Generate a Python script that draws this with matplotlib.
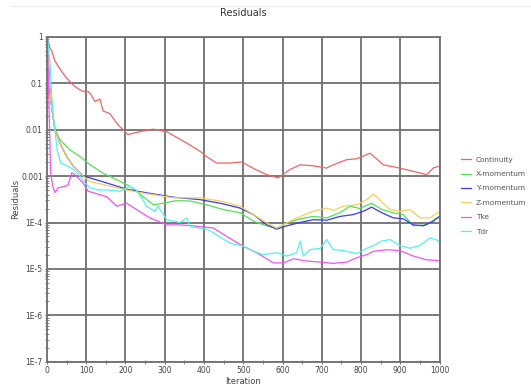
import matplotlib
matplotlib.use("Agg")
import matplotlib.pyplot as plt
from matplotlib.ticker import FixedLocator, FuncFormatter, LogLocator, MultipleLocator
from matplotlib.lines import Line2D

# ---------------- data ----------------
cont_it = [0, 1, 4, 8, 12, 16, 20, 30, 46, 67, 80, 92, 104, 110, 122, 135, 143, 160,
           181, 206, 237, 270, 305, 356, 390, 407, 432, 465, 496, 530, 560, 589, 619,
           645, 678, 712, 729, 763, 789, 823, 857, 899, 933, 967, 985, 1000]
cont_val = [1.0, 1.0, 0.75, 0.55, 0.5, 0.38, 0.3, 0.22, 0.14, 0.09, 0.075, 0.066, 0.066,
            0.06, 0.04, 0.045, 0.025, 0.022, 0.0126, 0.0078, 0.009, 0.0102, 0.009,
            0.0051, 0.0034, 0.0026, 0.0019, 0.0019, 0.002, 0.0014, 0.00107, 0.00091,
            0.00138, 0.00174, 0.00166, 0.00148, 0.00174, 0.00224, 0.00234, 0.0031,
            0.00174, 0.00148, 0.00126, 0.00107, 0.0015, 0.00162]

xmom_it = [0, 1, 3, 6, 10, 15, 20, 33, 59, 84, 110, 143, 178, 211, 245, 271, 296, 330,
           364, 407, 449, 492, 526, 560, 585, 611, 645, 678, 713, 746, 772, 797, 827,
           853, 882, 908, 933, 967, 1000]
xmom_val = [1.0, 1.0, 0.316, 0.1, 0.0398, 0.02, 0.0105, 0.006, 0.00363, 0.00263,
            0.00174, 0.00115, 8.3e-4, 6.0e-4, 3.6e-4, 2.4e-4, 2.6e-4, 2.95e-4, 2.9e-4,
            2.4e-4, 1.9e-4, 1.62e-4, 1.07e-4, 8.5e-5, 7.6e-5, 9.8e-5, 1.2e-4, 1.35e-4,
            1.26e-4, 1.62e-4, 2.24e-4, 2.0e-4, 2.6e-4, 1.9e-4, 1.62e-4, 1.48e-4,
            8.5e-5, 8.9e-5, 1.35e-4]

ymom_it = [0, 1, 3, 6, 10, 15, 20, 33, 50, 67, 92, 110, 152, 203, 237, 322, 390, 441,
           492, 526, 560, 585, 611, 645, 678, 713, 746, 780, 806, 827, 853, 882, 908,
           933, 959, 984, 1000]
ymom_val = [2.0e-5, 1.0, 0.33, 0.1, 0.04, 0.02, 0.0102, 0.0051, 0.00263, 0.00162,
            0.001, 9.1e-4, 7.1e-4, 5.2e-4, 4.6e-4, 3.5e-4, 3.1e-4, 2.6e-4, 2.04e-4,
            1.48e-4, 8.9e-5, 7.2e-5, 8.5e-5, 1.0e-4, 1.15e-4, 1.12e-4, 1.35e-4,
            1.48e-4, 1.74e-4, 2.14e-4, 1.62e-4, 1.26e-4, 1.2e-4, 8.9e-5, 8.5e-5,
            1.07e-4, 1.35e-4]

zmom_it = [0, 1, 3, 6, 10, 15, 20, 33, 50, 67, 92, 110, 152, 203, 237, 322, 390, 441,
           492, 526, 560, 585, 611, 645, 678, 713, 730, 755, 789, 815, 832, 853, 874,
           899, 925, 950, 976, 1000]
zmom_val = [1.0, 1.0, 0.355, 0.1, 0.0398, 0.02, 0.0102, 0.0051, 0.00263, 0.00162,
            0.001, 7.6e-4, 6.3e-4, 5.0e-4, 4.4e-4, 3.4e-4, 3.4e-4, 2.9e-4, 2.24e-4,
            1.48e-4, 9.8e-5, 7.6e-5, 9.8e-5, 1.35e-4, 1.74e-4, 2.04e-4, 1.82e-4,
            2.24e-4, 2.4e-4, 3.1e-4, 4.1e-4, 2.75e-4, 1.9e-4, 1.74e-4, 1.9e-4,
            1.26e-4, 1.26e-4, 1.74e-4]

tke_it = [0, 1, 3, 5, 7, 9, 14, 20, 29, 46, 54, 63, 71, 92, 105, 152, 178, 203, 228,
          262, 305, 339, 381, 424, 458, 500, 534, 577, 602, 628, 662, 696, 729, 764,
          789, 815, 832, 865, 899, 933, 967, 1000]
tke_val = [1.0, 1.0, 0.2, 0.0316, 0.0079, 0.00126, 6.3e-4, 4.4e-4, 5.6e-4, 6.0e-4,
           6.5e-4, 0.00117, 0.00107, 7.1e-4, 4.7e-4, 3.6e-4, 2.24e-4, 2.6e-4, 1.9e-4,
           1.26e-4, 8.9e-5, 8.9e-5, 8.3e-5, 7.6e-5, 5.0e-5, 3.1e-5, 2.24e-5, 1.35e-5,
           1.35e-5, 1.66e-5, 1.48e-5, 1.41e-5, 1.32e-5, 1.41e-5, 1.74e-5, 2.04e-5,
           2.4e-5, 2.6e-5, 2.5e-5, 1.9e-5, 1.58e-5, 1.51e-5]

tdr_it = [0, 1, 8, 12, 17, 20, 26, 35, 54, 67, 84, 97, 110, 130, 152, 186, 211, 228,
          254, 275, 283, 305, 339, 356, 364, 407, 424, 466, 500, 526, 551, 585, 611,
          636, 645, 653, 670, 696, 713, 729, 755, 789, 815, 832, 853, 874, 899, 925,
          950, 976, 1000]
tdr_val = [1.0e-7, 1.0, 0.25, 0.05, 0.0158, 0.01, 0.00363, 0.0019, 0.00162, 0.00138,
           0.001, 7.1e-4, 5.6e-4, 5.0e-4, 5.0e-4, 4.7e-4, 6.0e-4, 5.0e-4, 2.24e-4,
           1.74e-4, 2.24e-4, 1.15e-4, 1.0e-4, 1.26e-4, 8.3e-5, 7.1e-5, 6.0e-5,
           3.6e-5, 3.1e-5, 2.4e-5, 2.04e-5, 2.24e-5, 1.9e-5, 2.24e-5, 4.0e-5, 1.9e-5,
           2.6e-5, 2.8e-5, 4.3e-5, 2.6e-5, 2.5e-5, 2.14e-5, 2.8e-5, 3.2e-5, 4.0e-5,
           4.3e-5, 3.2e-5, 2.8e-5, 3.2e-5, 4.7e-5, 4.0e-5]

series_names = ["Continuity", "X-momentum", "Y-momentum", "Z-momentum", "Tke", "Tdr"]
ytick_vals = [1, 0.1, 0.01, 0.001, 1e-4, 1e-5, 1e-6, 1e-7]
ytick_labels = ["1", "0.1", "0.01", "0.001", "1E-4", "1E-5", "1E-6", "1E-7"]
xtick_vals = [0, 100, 200, 300, 400, 500, 600, 700, 800, 900, 1000]

# ---------------- drawing ----------------
colors = ["#f26464", "#55e055", "#3a3af0", "#f5d055", "#f055f0", "#55f0f0"]
series = [(cont_it, cont_val), (xmom_it, xmom_val), (ymom_it, ymom_val),
          (zmom_it, zmom_val), (tke_it, tke_val), (tdr_it, tdr_val)]

fig = plt.figure(figsize=(5.31, 3.86), dpi=100)
ax = fig.add_axes([0.0885, 0.0622, 0.7392, 0.8432])

for (it, val), name, c in zip(series, series_names, colors):
    ax.plot(it, val, color=c, lw=0.9, label=name, solid_joinstyle="round")

ax.set_yscale("log")
ax.set_ylim(1e-7, 1)
ax.set_xlim(0, 1000)

ax.yaxis.set_major_locator(FixedLocator(ytick_vals))
ax.yaxis.set_major_formatter(FuncFormatter(
    lambda v, p: ytick_labels[min(range(len(ytick_vals)), key=lambda i: abs(ytick_vals[i] - v) / ytick_vals[i])]))
ax.yaxis.set_minor_locator(LogLocator(base=10, subs=range(2, 10), numticks=20))
ax.yaxis.set_minor_formatter(FuncFormatter(lambda v, p: ""))
ax.xaxis.set_major_locator(FixedLocator(xtick_vals))
ax.xaxis.set_minor_locator(MultipleLocator(50))

gridc = "#707070"
ax.grid(True, which="major", color=gridc, lw=1.3)
for s in ax.spines.values():
    s.set_color(gridc)
    s.set_linewidth(1.3)

ax.tick_params(which="major", direction="inout", length=3, width=0.8, color=gridc,
               labelsize=5.5, labelcolor="#444444", pad=1.5)
ax.tick_params(which="minor", direction="inout", length=2.5, width=0.6, color=gridc)

ax.set_title("Residuals", fontsize=7, color="#333333", pad=15)
ax.set_ylabel("Residuals", fontsize=6, color="#444444", labelpad=1)
ax.set_xlabel("Iteration", fontsize=6, color="#444444", labelpad=1)

leg = ax.legend(loc="upper left", bbox_to_anchor=(0.862, 0.604),
                bbox_transform=fig.transFigure, frameon=False, fontsize=5.3,
                handlelength=1.3, handletextpad=0.7, labelspacing=1.12,
                borderpad=0.0)
for t in leg.get_texts():
    t.set_color("#555555")

fig.add_artist(Line2D([0.02, 1.0], [0.985, 0.985], transform=fig.transFigure,
                      color="#ebebeb", lw=0.8))

fig.savefig("out.png", dpi=100)
